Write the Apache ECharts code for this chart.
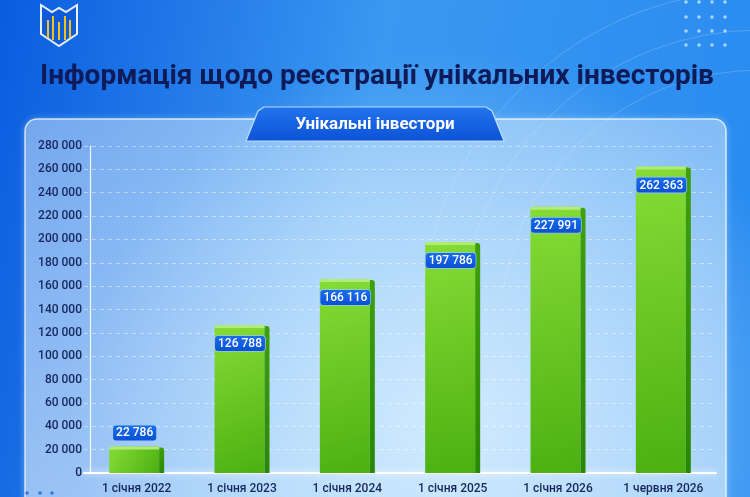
<!DOCTYPE html>
<html><head><meta charset="utf-8">
<script src="https://cdn.jsdelivr.net/npm/echarts@6/dist/echarts.min.js"></script>
<style>html,body{margin:0;padding:0;}#c{width:750px;height:497px;}</style>
</head><body><div id="c"></div>
<script>
const title = 'Інформація щодо реєстрації унікальних інвесторів';
const subtitle = 'Унікальні інвестори';
const categories = ['1 січня 2022','1 січня 2023','1 січня 2024','1 січня 2025','1 січня 2026','1 червня 2026'];
const investors = [22786,126788,166116,197786,227991,262363];
const yMin = 0, yMax = 280000, yInterval = 20000;

const fmt = v => String(v).replace(/\B(?=(\d{3})+(?!\d))/g, ' ');
const chart = echarts.init(document.getElementById('c'), null, {renderer:'canvas'});

function renderItem(params, api){
  const idx = api.value(0), v = api.value(1);
  const top = api.coord([idx, v]);
  const base = api.coord([idx, 0]);
  const w = 55, side = 5;
  const x0 = top[0] - w/2;
  const h = base[1] - top[1];
  const children = [
    {type:'rect', shape:{x:x0, y:top[1], width:w-side, height:h, r:[3,0,0,0]},
     style:{fill:new echarts.graphic.LinearGradient(0,0,1,1,[{offset:0,color:'#86dc35'},{offset:1,color:'#4cb012'}])}},
    {type:'rect', shape:{x:x0+w-side, y:top[1]+1, width:side, height:h-1, r:[0,3,0,0]},
     style:{fill:new echarts.graphic.LinearGradient(0,0,0,1,[{offset:0,color:'#3f9f0c'},{offset:1,color:'#2a8705'}])}},
    {type:'rect', shape:{x:x0, y:top[1], width:w-side, height:3, r:[3,0,0,0]},
     style:{fill:'#b2ec78'}}
  ];
  const inside = v > 60000;
  children.push({type:'text', x: top[0]-2, y: inside ? top[1]+11 : top[1]-21,
    style:{text: fmt(v), fill:'#ffffff', font:'500 12px Roboto', align:'center', verticalAlign:'top',
      backgroundColor: new echarts.graphic.LinearGradient(0,0,0,1,[{offset:0,color:'#1a6ff0'},{offset:1,color:'#0a4fd2'}]),
      padding:[2,3,1,3], borderRadius:3, borderColor:'rgba(150,200,255,0.9)', borderWidth:0.8}});
  return {type:'group', children};
}

const dots = [];
[686,699,712,725].forEach(x=>[2,17,31,45].forEach(y=>dots.push({type:'circle', shape:{cx:x, cy:y, r:1.8}, style:{fill:'rgba(210,235,255,0.75)'}, z:-5})));
[14,27,40,52].forEach(x=>dots.push({type:'circle', shape:{cx:x, cy:493, r:1.8}, style:{fill:'rgba(40,110,230,0.9)'}, z:-5}));
const arcs = [260,300,340].map(r=>({type:'arc', shape:{cx:760, cy:330, r, startAngle:Math.PI*1.05, endAngle:Math.PI*1.5}, z:-9,
  style:{stroke:'rgba(255,255,255,0.18)', lineWidth:1, fill:null}}));

const option = {
  animation:false,
  backgroundColor: new echarts.graphic.LinearGradient(0,0,1,0.3,[{offset:0,color:'#0a5cdf'},{offset:0.5,color:'#3a98f1'},{offset:1,color:'#2a8cf0'}]),
  graphic:[
    {type:'rect', shape:{x:0,y:0,width:750,height:497}, z:-10,
     style:{fill:new echarts.graphic.RadialGradient(0.6,0.85,0.75,[{offset:0,color:'rgba(195,232,255,0.85)'},{offset:1,color:'rgba(195,232,255,0)'}])}},
    ...arcs,
    {type:'rect', shape:{x:25,y:119,width:701,height:400,r:12}, z:-8,
     style:{fill:new echarts.graphic.LinearGradient(0,0,0,1,[{offset:0,color:'rgba(225,242,255,0.35)'},{offset:1,color:'rgba(225,242,255,0.5)'}]),
            stroke:'rgba(255,255,255,0.75)', lineWidth:1.5, shadowBlur:6, shadowColor:'rgba(255,255,255,0.5)'}},
    {type:'polygon', shape:{points:[[246,141],[258,111],[264,107],[486,107],[492,111],[504,141]]}, z:-7,
     style:{fill:new echarts.graphic.LinearGradient(0,0,0,1,[{offset:0,color:'#2274ee'},{offset:1,color:'#0c52d6'}]), stroke:'rgba(200,230,255,0.9)', lineWidth:1.2}},
    {type:'text', x:375, y:125, z:5, style:{text:subtitle, fill:'#ffffff', font:'bold 17px Roboto', align:'center', verticalAlign:'middle'}},
    {type:'text', x:377, y:77, z:5, style:{text:title, fill:'#0e1b58', font:'bold 28px "Liberation Sans Narrow", Roboto', align:'center', verticalAlign:'middle'}},
    {type:'polygon', shape:{points:[[41,5],[52,12],[59,8],[66,12],[77,5],[77,34],[59,46],[41,34]]}, z:-4,
     style:{fill:'rgba(10,70,200,0.3)', stroke:'#e6efff', lineWidth:2}},
    ...[[48,20,38],[53,16,40],[59,22,40],[65,16,40],[70,20,38]].map(b=>({type:'line', shape:{x1:b[0],y1:b[1],x2:b[0],y2:b[2]}, z:-3, style:{stroke:'#f4c21c', lineWidth:2}})),
    ...dots
  ],
  grid:{left:84, right:34, top:146, bottom:24, containLabel:false},
  xAxis:{type:'category', data:categories,
    axisLine:{show:true, lineStyle:{color:'#ffffff', width:2, shadowBlur:6, shadowColor:'rgba(255,255,255,0.9)'}},
    axisTick:{show:false},
    axisLabel:{color:'#17265c', fontSize:12, fontFamily:'Roboto', fontWeight:500, margin:10}},
  yAxis:{type:'value', min:yMin, max:yMax, interval:yInterval, offset:-6,
    axisLine:{show:true, lineStyle:{color:'rgba(255,255,255,0.9)', width:1.2}},
    axisTick:{show:false},
    splitLine:{show:true, lineStyle:{color:'rgba(255,255,255,0.45)', type:[4,4], width:1}},
    axisLabel:{color:'#17265c', fontSize:12, fontFamily:'Roboto', fontWeight:500, margin:8, formatter:v=>fmt(v)}},
  series:[{type:'custom', renderItem, data: investors.map((v,i)=>[i,v]), encode:{x:0,y:1}, z:3}]
};
chart.setOption(option);
</script></body></html>
